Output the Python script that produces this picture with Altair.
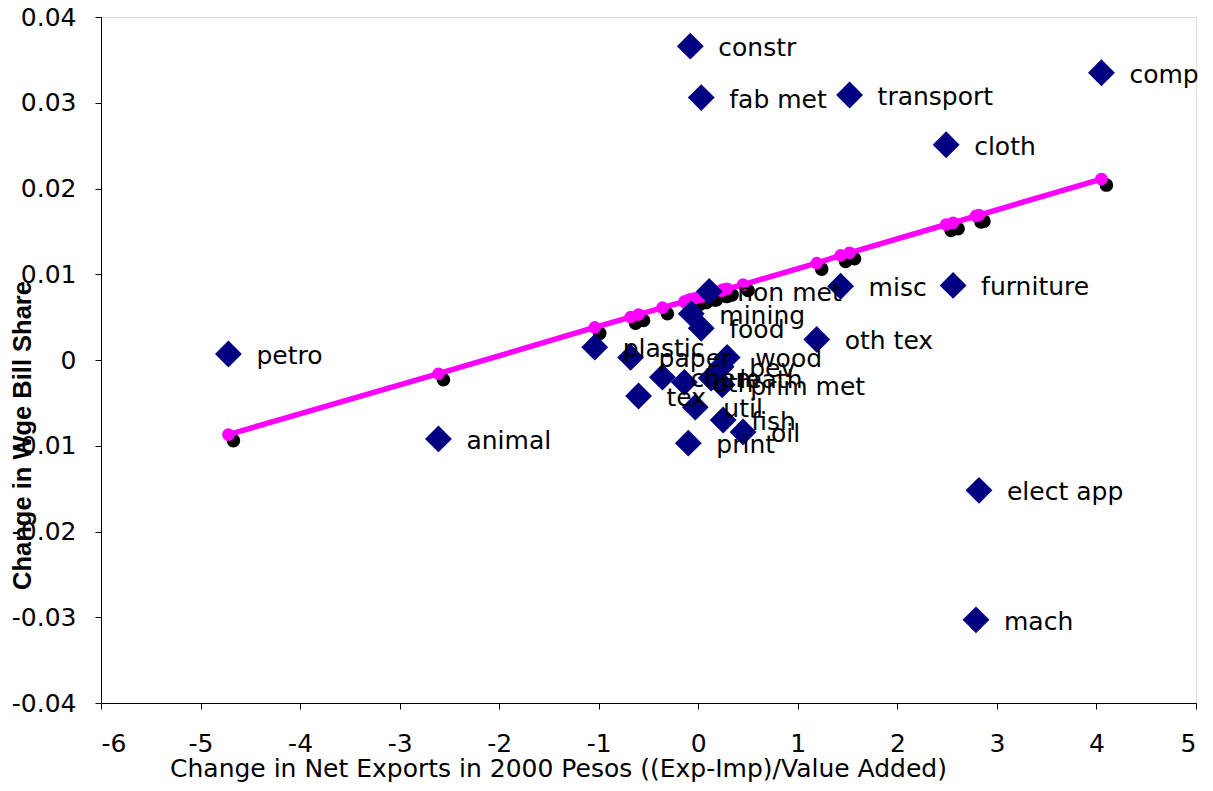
import altair as alt
import pandas as pd

sectors = ["constr", "fab met", "transport", "comp", "cloth", "furniture", "misc",
           "oth tex", "petro", "animal", "elect app", "mach", "non met", "mining",
           "food", "plastic", "paper", "wood", "chem", "oth", "leath", "bev",
           "prim met", "tex", "util", "fish", "oil", "print"]
net_exports = [-0.08, 0.03, 1.52, 4.05, 2.49, 2.56, 1.43,
               1.19, -4.72, -2.61, 2.82, 2.79, 0.11, -0.07,
               0.03, -1.04, -0.68, 0.29, -0.36, -0.14, 0.13, 0.23,
               0.24, -0.60, -0.03, 0.25, 0.45, -0.10]
wage_share = [0.0366, 0.0306, 0.0309, 0.0335, 0.0251, 0.0087, 0.0086,
              0.0024, 0.0007, -0.0092, -0.0152, -0.0303, 0.0080, 0.0054,
              0.0037, 0.0015, 0.0003, 0.0003, -0.0020, -0.0026, -0.0021, -0.0008,
              -0.0029, -0.0042, -0.0055, -0.0070, -0.0084, -0.0097]
fitted = [0.0070, 0.0074, 0.0125, 0.0211, 0.0158, 0.0160, 0.0122,
          0.0113, -0.0087, -0.0016, 0.0169, 0.0168, 0.0077, 0.0071,
          0.0074, 0.0038, 0.0050, 0.0083, 0.0061, 0.0068, 0.0077, 0.0081,
          0.0081, 0.0053, 0.0072, 0.0082, 0.0088, 0.0070]

x_ticks = [-6, -5, -4, -3, -2, -1, 0, 1, 2, 3, 4, 5]
y_ticks = [-0.04, -0.03, -0.02, -0.01, 0, 0.01, 0.02, 0.03, 0.04]

df = pd.DataFrame({"sector": sectors, "x": net_exports, "y": wage_share, "fit": fitted})

FONT = "DejaVu Sans"

xs = alt.Scale(domain=[-6, 5], nice=False, zero=False)
ys = alt.Scale(domain=[-0.04, 0.04], nice=False, zero=False)

x_axis = alt.Axis(
    values=x_ticks, grid=False, title="Change in Net Exports in 2000 Pesos ((Exp-Imp)/Value Added)",
    labelExpr="datum.value < 0 ? '-' + format(-datum.value, 'd') : format(datum.value, 'd')",
    labelFont=FONT, labelFontSize=25, labelColor="black", labelPadding=22,
    titleFont=FONT, titleFontSize=25, titleFontWeight="normal", titleColor="black",
    titleX=457, titleY=65, titleAlign="center", titleBaseline="middle",
    domainColor="black", domainWidth=1, tickColor="black", tickSize=6,
)
y_axis = alt.Axis(
    values=y_ticks, grid=False, title="Change in Wge Bill Share",
    labelExpr="datum.value < 0 ? '-' + format(-datum.value, '.2f') : (datum.value == 0 ? '0' : format(datum.value, '.2f'))",
    labelFont=FONT, labelFontSize=25, labelColor="black", labelPadding=19,
    titleFont="Liberation Sans", titleFontSize=25.5, titleFontWeight="bold", titleColor="black",
    titleX=-79, titleY=418, titleAngle=-90, titleAlign="center", titleBaseline="middle",
    domainColor="black", domainWidth=1, tickColor="black", tickSize=6,
)

base = alt.Chart(df)

shadow = base.mark_circle(size=185, color="black", opacity=1, xOffset=5, yOffset=6).encode(
    x=alt.X("x:Q", scale=xs, axis=x_axis),
    y=alt.Y("fit:Q", scale=ys, axis=y_axis),
)
line = base.mark_line(color="#FF00FF", strokeWidth=5.5).encode(
    x=alt.X("x:Q", scale=xs), y=alt.Y("fit:Q", scale=ys), order="x:Q"
)
fit_pts = base.mark_circle(size=160, color="#FF00FF", opacity=1).encode(
    x=alt.X("x:Q", scale=xs), y=alt.Y("fit:Q", scale=ys)
)
diamonds = base.mark_point(shape="diamond", size=720, filled=True, color="#000080", opacity=1).encode(
    x=alt.X("x:Q", scale=xs), y=alt.Y("y:Q", scale=ys)
)
labels = base.mark_text(align="left", baseline="middle", dx=28, dy=2, font=FONT,
                        fontSize=25, color="black").encode(
    x=alt.X("x:Q", scale=xs), y=alt.Y("y:Q", scale=ys), text="sector:N"
)

chart = alt.layer(shadow, line, fit_pts, diamonds, labels).properties(
    width=1095, height=686,
    autosize=alt.AutoSizeParams(type="none"),
    padding={"left": 93, "top": 9, "right": 9, "bottom": 80},
).configure_view(stroke="#808080", strokeWidth=2).configure(background="white")

chart.save("out.html", embed_options={"renderer": "svg", "actions": False})
